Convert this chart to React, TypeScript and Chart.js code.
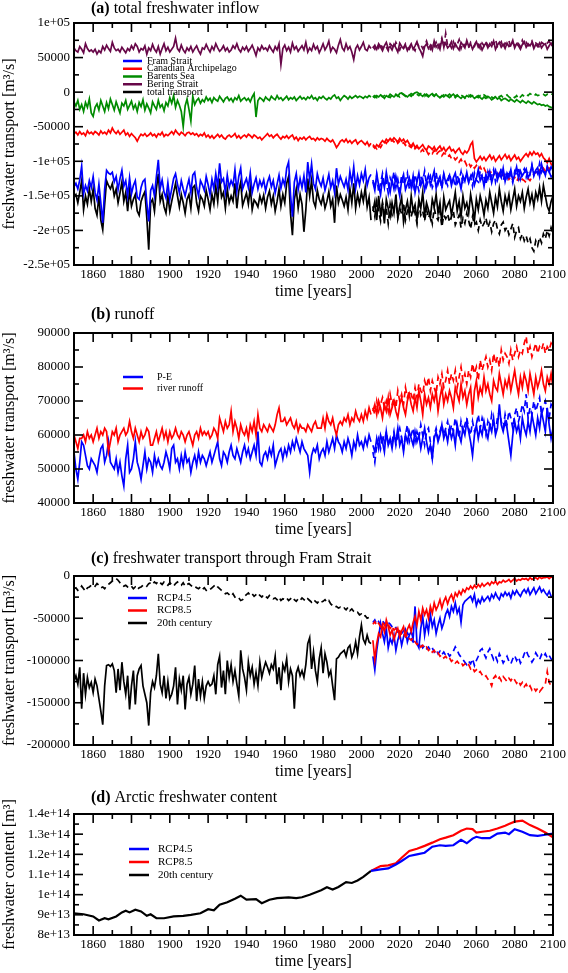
import React, { useEffect, useRef } from "react";
import { Chart, registerables } from "chart.js";
Chart.register(...registerables);

const FONT = "'Liberation Serif', 'Times New Roman', serif";
const BLUE = "#0000ff";
const RED = "#ff0000";
const GREEN = "#008b00";
const MAROON = "#670748";
const BLACK = "#000000";

// ---------- axes / categories ----------
const histYears = Array.from({ length: 156 }, (_, i) => 1850 + i); // 1850..2005
const rcpYears = Array.from({ length: 95 }, (_, i) => 2006 + i); // 2006..2100
const xTickYears = [1860, 1880, 1900, 1920, 1940, 1960, 1980, 2000, 2020, 2040, 2060, 2080, 2100];

// ---------- panel (a): values in 1000 m3/s ----------
const framHist = [
  -137,-132,-140,-127,-107,-147,-135,-143,-128,-138,
  -122,-145,-156,-133,-160,-189,-140,-113,-117,-119,
  -116,-130,-122,-141,-125,-113,-136,-128,-150,-124,
  -147,-135,-128,-152,-155,-138,-129,-126,-160,-187,
  -142,-135,-150,-122,-98,-139,-127,-145,-153,-131,
  -155,-140,-125,-118,-133,-146,-128,-140,-150,-137,
  -126,-145,-120,-116,-138,-150,-128,-134,-142,-122,
  -134,-148,-126,-140,-118,-137,-103,-130,-125,-145,
  -120,-138,-128,-135,-112,-143,-122,-110,-140,-132,
  -125,-138,-117,-145,-133,-124,-140,-128,-136,-127,
  -143,-130,-122,-137,-128,-146,-133,-120,-139,-126,
  -135,-110,-101,-148,-180,-130,-118,-141,-125,-138,
  -121,-145,-101,-127,-104,-132,-140,-118,-129,-136,
  -124,-142,-131,-119,-138,-128,-145,-110,-133,-122,
  -130,-137,-126,-141,-115,-132,-108,-139,-121,-134,
  -118,-128,-112,-135,-124,-119,
];
const framRcp45 = [
  -130,-142,-118,-135,-148,-125,-138,-116,-132,-145,
  -127,-140,-122,-136,-150,-128,-119,-141,-133,-124,
  -138,-121,-145,-130,-117,-135,-126,-142,-129,-120,
  -134,-125,-114,-139,-128,-122,-137,-118,-131,-126,
  -120,-135,-124,-117,-132,-127,-140,-121,-129,-116,
  -130,-123,-118,-134,-125,-112,-128,-121,-136,-119,
  -126,-115,-131,-120,-113,-127,-118,-124,-110,-129,
  -117,-123,-112,-128,-119,-108,-125,-114,-121,-116,
  -111,-124,-118,-106,-120,-113,-109,-122,-104,-115,
  -119,-110,-116,-108,-113,
];
const framRcp85 = [
  -127,-139,-121,-144,-132,-118,-136,-129,-146,-124,
  -131,-115,-138,-126,-142,-120,-134,-128,-117,-140,
  -125,-137,-119,-131,-143,-122,-129,-114,-136,-127,
  -121,-138,-130,-116,-133,-124,-140,-119,-128,-135,
  -118,-130,-125,-137,-121,-128,-115,-133,-126,-119,
  -131,-122,-136,-117,-127,-130,-114,-125,-120,-134,
  -116,-128,-121,-112,-130,-118,-124,-109,-127,-119,
  -125,-113,-120,-131,-115,-122,-108,-126,-117,-111,
  -123,-114,-119,-105,-121,-112,-118,-103,-116,-110,
  -120,-107,-115,-122,-112,
];
const caaHist = [
  -60,-58,-62,-57,-61,-59,-63,-56,-60,-58,
  -61,-57,-59,-62,-56,-60,-58,-61,-55,-59,
  -52,-57,-60,-56,-61,-58,-55,-62,-59,-64,
  -60,-63,-66,-71,-65,-61,-63,-60,-64,-62,
  -59,-63,-61,-65,-60,-62,-58,-64,-61,-63,
  -60,-57,-61,-55,-59,-62,-58,-60,-63,-59,
  -58,-61,-59,-62,-60,-64,-61,-63,-59,-65,
  -62,-66,-63,-67,-64,-61,-65,-62,-66,-68,
  -64,-62,-65,-63,-60,-66,-63,-67,-64,-62,
  -65,-61,-63,-66,-62,-64,-67,-65,-69,-66,
  -63,-60,-64,-62,-66,-63,-61,-65,-68,-64,
  -66,-63,-67,-64,-62,-68,-65,-70,-66,-68,
  -65,-69,-66,-64,-68,-67,-70,-66,-69,-67,
  -68,-71,-67,-70,-72,-69,-74,-80,-76,-71,
  -69,-72,-68,-73,-70,-74,-71,-69,-75,-72,
  -70,-73,-76,-72,-78,-74,
];
const caaRcp45 = [
  -78,-81,-76,-79,-74,-70,-73,-68,-71,-67,
  -70,-66,-69,-72,-67,-71,-68,-73,-70,-75,
  -78,-74,-80,-77,-82,-79,-76,-81,-84,-78,
  -80,-83,-79,-85,-81,-78,-84,-80,-86,-82,
  -79,-85,-83,-88,-84,-81,-87,-90,-85,-88,
  -84,-76,-72,-96,-101,-97,-93,-98,-94,-99,
  -95,-91,-97,-93,-100,-96,-92,-98,-94,-90,
  -96,-92,-99,-95,-91,-97,-94,-100,-96,-92,
  -89,-93,-87,-91,-86,-90,-88,-93,-89,-95,
  -98,-102,-96,-104,-107,
];
const caaRcp85 = [
  -76,-79,-82,-77,-80,-75,-71,-74,-70,-73,
  -69,-72,-68,-74,-71,-75,-73,-77,-74,-78,
  -80,-76,-82,-79,-84,-86,-83,-88,-85,-90,
  -86,-89,-84,-91,-87,-85,-92,-88,-90,-94,
  -91,-96,-93,-98,-95,-101,-97,-103,-100,-106,
  -102,-108,-104,-110,-106,-112,-108,-114,-110,-116,
  -112,-118,-114,-120,-115,-121,-117,-123,-119,-125,
  -120,-126,-122,-127,-123,-129,-124,-130,-126,-128,
  -131,-125,-128,-123,-119,-115,-120,-113,-117,-110,
  -114,-108,-112,-106,-110,
];
const barentsHist = [
  -14,-20,-12,-25,-18,-28,-15,-22,-10,-30,
  -35,-22,-17,-26,-12,-20,-28,-15,-24,-10,
  -18,-26,-14,-22,-30,-16,-20,-12,-25,-19,
  -13,-24,-18,-28,-15,-21,-11,-26,-17,-23,
  -30,-14,-20,-25,-12,-22,-18,-27,-15,-20,
  -8,-16,-5,-22,-12,-19,-28,-50,-20,-10,
  -25,-42,-6,-18,-12,-9,-16,-11,-14,-7,
  -12,-9,-15,-8,-11,-13,-6,-10,-14,-9,
  -7,-12,-9,-14,-8,-11,-5,-13,-10,-8,
  -12,-9,-14,-7,-2,-36,-12,-8,-10,-13,
  -7,-10,-12,-6,-9,-11,-5,-10,-8,-12,
  -9,-6,-11,-8,-10,-7,-12,-9,-6,-10,
  -8,-11,-7,-9,-5,-10,-8,-12,-7,-9,
  -6,-9,-11,-8,-10,-6,-4,-9,-7,-12,
  -8,-5,-7,-10,-6,-9,-7,-5,-8,-6,
  -7,-9,-6,-8,-5,-7,
];
const barentsRcp45 = [
  -6,-8,-5,-7,-4,-6,-9,-5,-7,-3,
  -5,-7,-4,-6,-2,-1,-3,-5,-7,-4,
  -6,-3,-1,0,-2,-4,-6,-3,-5,-7,
  -4,-2,-5,-3,-6,-8,-5,-7,-4,-6,
  -8,-5,-3,-6,-4,-7,-9,-6,-8,-5,
  -7,-4,-6,-9,-7,-5,-8,-10,-7,-9,
  -6,-8,-11,-9,-7,-10,-8,-12,-10,-9,
  -11,-13,-10,-12,-14,-11,-13,-15,-12,-14,
  -16,-13,-15,-17,-14,-16,-18,-17,-19,-18,
  -20,-19,-21,-22,-23,
];
const barentsRcp85 = [
  -7,-5,-8,-6,-4,-7,-5,-3,-6,-8,
  -4,-6,-3,-5,-7,-2,-4,-6,-3,-5,
  -2,-4,-1,-3,-5,-2,-4,-6,-3,-5,
  -7,-4,-6,-3,-5,-8,-6,-4,-7,-5,
  -3,-6,-4,-8,-5,-7,-4,-6,-9,-6,
  -4,-7,-5,-3,-6,-8,-5,-7,-4,-6,
  -8,-5,-7,-9,-6,-4,-7,-5,-8,-6,
  -4,-7,-9,-6,-8,-5,-10,-7,-4,-6,
  -3,-5,-2,-4,-6,-3,-5,-4,-2,-3,
  -5,-3,-4,-2,-4,
];
const beringHist = [
  64,60,58,66,62,57,70,63,59,61,
  58,62,55,60,57,66,61,68,63,59,
  72,64,60,62,58,65,61,57,63,60,
  67,62,70,66,58,63,61,67,55,64,
  60,69,62,58,66,55,63,70,60,65,
  58,62,66,78,63,59,68,61,57,64,
  60,66,58,63,67,60,55,64,62,69,
  63,58,66,61,70,64,59,62,67,60,
  64,58,61,67,63,70,62,58,65,61,
  66,59,63,68,61,53,64,60,67,62,
  64,60,67,62,58,66,61,70,40,63,
  68,60,65,58,71,62,66,59,63,67,
  61,72,58,64,60,69,62,66,57,63,
  70,61,66,74,59,65,62,57,68,76,
  64,60,70,62,66,58,47,63,68,61,
  66,72,62,60,67,63,
];
const beringRcp45 = [
  64,68,62,70,65,60,67,72,63,66,
  61,69,64,58,71,66,63,68,60,65,
  70,62,67,73,64,59,52,66,70,63,
  68,61,74,65,69,62,76,66,71,64,
  67,73,63,70,65,61,72,68,64,75,
  66,70,62,68,73,65,69,61,67,71,
  64,70,66,74,62,68,72,65,69,63,
  71,66,68,75,64,70,67,62,69,73,
  65,70,67,72,63,69,66,71,64,68,
  70,62,67,71,66,
];
const beringRcp85 = [
  66,62,69,64,71,63,68,65,60,70,
  67,63,72,66,61,68,64,70,65,62,
  68,64,60,71,66,69,63,67,74,65,
  62,70,66,72,64,69,78,65,85,67,
  70,64,73,66,69,76,63,71,67,70,
  64,72,68,66,74,69,63,71,67,73,
  68,65,72,70,76,66,69,73,64,71,
  69,74,65,71,67,73,70,66,75,68,
  72,67,70,74,66,71,69,64,72,70,
  67,71,74,66,69,
];
const totalHist = [
  -152,-148,-160,-145,-128,-170,-150,-162,-140,-158,
  -140,-168,-178,-150,-185,-199,-162,-128,-135,-140,
  -132,-150,-140,-160,-146,-130,-158,-145,-172,-142,
  -165,-155,-148,-172,-178,-158,-150,-144,-182,-228,
  -160,-155,-172,-140,-118,-158,-148,-166,-175,-150,
  -172,-158,-145,-132,-150,-166,-148,-160,-175,-155,
  -148,-168,-138,-135,-160,-172,-150,-155,-165,-142,
  -155,-170,-148,-162,-136,-158,-125,-152,-145,-168,
  -140,-160,-150,-158,-132,-168,-143,-130,-164,-155,
  -146,-162,-138,-170,-156,-160,-166,-150,-160,-149,
  -168,-152,-143,-162,-150,-172,-158,-140,-165,-148,
  -160,-132,-122,-175,-207,-155,-140,-168,-148,-162,
  -202,-170,-125,-150,-128,-158,-166,-142,-155,-162,
  -150,-168,-158,-144,-165,-155,-189,-135,-160,-148,
  -156,-165,-152,-170,-140,-160,-132,-168,-148,-162,
  -145,-158,-138,-166,-152,-185,
];
const totalRcp45 = [
  -172,-158,-185,-150,-176,-162,-190,-155,-168,-180,
  -160,-175,-148,-182,-165,-152,-188,-170,-158,-178,
  -150,-172,-163,-185,-155,-168,-145,-178,-160,-170,
  -182,-155,-166,-148,-175,-160,-190,-152,-170,-163,
  -157,-178,-162,-145,-172,-158,-180,-150,-168,-160,
  -175,-148,-165,-185,-155,-170,-150,-162,-178,-156,
  -168,-145,-160,-175,-152,-166,-140,-158,-172,-150,
  -162,-148,-170,-155,-140,-165,-150,-158,-145,-168,
  -152,-140,-160,-148,-165,-145,-155,-138,-158,-135,
  -150,-165,-172,-158,-150,
];
const totalRcp85 = [
  -165,-180,-158,-172,-186,-160,-175,-168,-190,-162,
  -178,-170,-155,-182,-168,-176,-160,-185,-172,-165,
  -180,-168,-175,-190,-162,-178,-172,-186,-170,-182,
  -175,-190,-168,-180,-185,-172,-195,-178,-183,-176,
  -188,-180,-172,-192,-185,-178,-196,-182,-190,-175,
  -186,-198,-180,-192,-188,-200,-185,-195,-190,-182,
  -196,-188,-202,-190,-185,-198,-205,-192,-188,-200,
  -195,-206,-198,-190,-210,-200,-196,-212,-205,-215,
  -208,-218,-212,-225,-230,-215,-222,-210,-218,-205,
  -212,-200,-208,-196,-204,
];

// ---------- panel (b): values in 1000 m3/s ----------
const peHist = [
  55,50,47,52,58,57,54,51,50,53,
  52,51,49,53,56,57,52,54,58,52,
  51,50,53,49,52,48,45,53,57,49,
  50,53,58,52,50,47,51,55,50,53,
  52,49,54,51,53,51,50,52,55,53,
  50,56,57,52,53,50,54,51,55,52,
  53,49,52,54,51,55,52,54,53,51,
  53,55,52,54,56,58,53,51,55,54,
  52,55,57,54,53,56,54,52,55,57,
  54,56,53,55,57,54,61,52,51,54,
  55,53,56,54,57,51,53,55,56,53,
  56,54,57,55,58,56,59,57,55,58,
  56,55,54,49,54,56,55,57,53,55,
  56,54,58,55,57,59,56,60,58,57,
  55,58,56,59,57,54,58,56,60,57,
  58,56,59,57,60,58,
];
const peRcp45 = [
  57,55,59,56,60,58,55,61,57,59,
  56,60,58,62,57,59,55,60,58,61,
  59,57,61,58,60,56,59,62,58,55,
  57,53,59,61,58,60,63,59,61,58,
  62,59,61,57,63,60,58,62,60,64,
  61,58,54,60,63,59,62,60,64,61,
  59,63,61,65,60,62,69,63,61,64,
  62,58,54,60,64,61,63,59,65,62,
  60,64,61,66,63,60,65,62,67,64,
  61,68,63,59,62,
];
const peRcp85 = [
  55,52,57,59,56,60,58,61,57,59,
  58,61,57,60,62,59,56,60,63,58,
  60,62,58,61,59,63,60,57,61,62,
  58,53,60,62,59,61,63,60,62,64,
  60,63,61,65,62,59,64,61,63,65,
  62,60,64,61,63,66,62,65,63,60,
  64,62,66,63,61,65,67,64,62,66,
  63,67,65,62,66,68,64,66,69,67,
  72,65,68,66,70,67,69,71,66,68,
  70,67,65,69,68,
];
const runoffHist = [
  60,58,56,59,59,60,58,61,59,60,
  58,60,62,59,61,60,62,61,55,58,
  61,60,62,58,60,61,62,60,61,64,
  61,59,62,60,58,61,59,60,62,61,
  57,57,59,61,58,60,62,59,61,58,
  61,59,60,62,60,59,61,60,58,60,
  61,59,57,60,61,59,62,60,61,60,
  61,59,60,62,61,59,65,63,61,64,
  62,63,67,61,64,62,59,63,61,60,
  62,59,63,61,64,60,66,62,61,63,
  62,61,63,62,61,63,66,68,64,64,
  65,63,64,65,63,62,64,61,63,62,
  62,61,63,62,61,63,64,62,62,62,
  65,62,66,64,63,65,62,60,63,64,
  63,65,64,66,63,65,64,67,65,64,
  66,64,67,65,68,66,
];
const runoffRcp45 = [
  67,69,66,70,68,65,69,67,71,66,
  68,70,67,65,69,71,68,66,70,72,
  69,67,71,68,73,70,66,72,69,71,
  68,72,70,73,67,71,74,69,72,70,
  73,71,68,74,72,70,75,71,73,69,
  72,74,66,73,76,71,74,72,77,73,
  75,72,70,76,74,73,78,75,72,76,
  74,77,73,76,79,75,72,77,74,78,
  76,73,78,75,72,77,74,76,79,75,
  73,77,75,78,74,
];
const runoffRcp85 = [
  68,66,70,67,69,71,68,70,67,72,
  69,71,68,73,70,72,69,74,71,73,
  72,70,74,71,75,73,72,76,74,77,
  73,76,74,72,77,75,78,74,76,79,
  75,78,76,79,74,77,80,76,78,75,
  79,77,81,78,80,76,82,79,81,83,
  80,82,79,84,81,83,80,85,82,84,
  83,81,85,82,84,86,83,85,84,87,
  89,84,86,83,85,87,84,86,85,87,
  84,86,85,87,86,
];

// ---------- panel (c): values in 1000 m3/s ----------
const liquidHist = [
  -125,-118,-128,-108,-157,-115,-140,-120,-132,-126,
  -138,-122,-130,-145,-160,-176,-130,-106,-105,-107,
  -104,-112,-138,-110,-135,-102,-125,-140,-118,-158,
  -130,-112,-152,-118,-110,-106,-130,-140,-150,-177,
  -138,-125,-132,-118,-92,-128,-138,-118,-145,-125,
  -145,-140,-130,-108,-152,-122,-135,-118,-158,-128,
  -120,-140,-128,-106,-148,-122,-142,-125,-145,-130,
  -125,-130,-128,-118,-140,-105,-95,-132,-112,-140,
  -100,-120,-105,-125,-112,-128,-142,-88,-110,-120,
  -135,-102,-118,-108,-128,-114,-130,-102,-120,-110,
  -102,-108,-115,-105,-110,-95,-128,-108,-135,-105,
  -112,-98,-125,-110,-118,-157,-115,-108,-118,-112,
  -120,-105,-80,-73,-110,-90,-112,-125,-98,-85,
  -115,-92,-102,-118,-112,-130,-147,-98,-96,-92,
  -90,-88,-95,-85,-82,-96,-90,-78,-92,-72,
  -58,-75,-80,-70,-78,-80,
];
const liquidRcp45 = [
  -95,-111,-88,-72,-56,-68,-78,-62,-85,-74,
  -80,-70,-88,-76,-68,-82,-72,-64,-78,-70,
  -66,-74,-36,-80,-85,-62,-48,-70,-55,-66,
  -45,-60,-52,-68,-58,-50,-62,-55,-45,-40,
  -48,-36,-42,-32,-44,-38,-55,-34,-30,-28,
  -26,-24,-30,-22,-35,-28,-32,-25,-30,-27,
  -24,-29,-22,-26,-20,-25,-28,-21,-24,-19,
  -23,-20,-26,-18,-22,-17,-21,-24,-19,-16,
  -20,-15,-22,-18,-14,-21,-17,-13,-19,-16,
  -20,-23,-18,-24,-26,
];
const liquidRcp85 = [
  -76,-99,-80,-68,-72,-58,-66,-52,-60,-70,
  -64,-75,-68,-62,-72,-65,-60,-70,-63,-58,
  -66,-55,-48,-58,-42,-52,-38,-46,-40,-50,
  -36,-44,-32,-40,-35,-28,-38,-30,-25,-33,
  -26,-22,-29,-20,-24,-18,-22,-16,-19,-14,
  -16,-12,-15,-11,-14,-10,-13,-9,-12,-10,
  -8,-11,-7,-9,-6,-10,-7,-8,-5,-7,
  -6,-4,-7,-5,-3,-6,-4,-5,-3,-4,
  -3,-5,-2,-4,-3,-2,-4,-1,-3,-2,
  -2,-1,-3,-1,-2,
];
const iceHist = [
  -15,-14,-17,-16,-12,-15,-18,-14,-13,-11,
  -10,-12,-9,-11,-14,-13,-15,-12,-10,-8,
  -6,-4,-3,-5,-8,-10,-12,-11,-13,-14,
  -12,-15,-13,-16,-14,-13,-11,-10,-12,-9,
  -8,-10,-7,-9,-6,-8,-10,-7,-9,-11,
  -8,-10,-12,-9,-7,-10,-11,-8,-12,-10,
  -9,-11,-13,-12,-14,-15,-13,-16,-14,-17,
  -15,-16,-14,-12,-10,-13,-15,-17,-19,-21,
  -20,-22,-24,-21,-25,-27,-26,-29,-28,-24,
  -22,-20,-23,-21,-24,-22,-20,-23,-25,-22,
  -24,-26,-23,-25,-27,-26,-28,-25,-29,-27,
  -28,-26,-29,-27,-25,-28,-30,-27,-29,-26,
  -28,-30,-27,-29,-31,-28,-30,-32,-29,-31,
  -30,-28,-31,-29,-33,-35,-37,-36,-38,-37,
  -39,-38,-40,-37,-41,-39,-42,-44,-43,-46,
  -45,-48,-47,-50,-49,-52,
];
const iceRcp45 = [
  -55,-52,-57,-54,-58,-53,-56,-59,-55,-57,
  -60,-63,-61,-66,-64,-68,-65,-70,-67,-72,
  -74,-78,-76,-80,-83,-79,-85,-82,-86,-84,
  -88,-85,-90,-87,-92,-89,-93,-90,-94,-91,
  -95,-92,-89,-84,-88,-93,-96,-99,-102,-105,
  -101,-104,-98,-106,-100,-95,-88,-86,-92,-97,
  -90,-86,-93,-99,-95,-101,-92,-97,-103,-99,
  -95,-101,-104,-98,-94,-100,-96,-103,-99,-92,
  -88,-94,-97,-102,-98,-91,-95,-99,-93,-96,
  -92,-97,-94,-98,-100,
];
const iceRcp85 = [
  -57,-54,-59,-56,-60,-55,-58,-61,-57,-62,
  -59,-64,-62,-67,-65,-70,-68,-72,-69,-74,
  -76,-73,-78,-81,-79,-84,-82,-86,-84,-88,
  -86,-90,-88,-93,-91,-95,-93,-97,-95,-99,
  -97,-101,-99,-103,-101,-104,-102,-106,-104,-107,
  -105,-110,-108,-113,-111,-115,-113,-117,-120,-118,
  -122,-125,-130,-121,-118,-123,-120,-124,-119,-122,
  -125,-121,-124,-120,-123,-127,-124,-129,-126,-131,
  -128,-133,-130,-135,-132,-136,-133,-137,-134,-131,
  -128,-113,-126,-130,-127,
];

// ---------- panel (d): values in 1e13 m3 ----------
const fwcHistYears = [1850,1855,1860,1863,1866,1868,1872,1875,1877,1879,1882,1885,1888,1890,1893,1897,1902,1907,1911,1916,1920,1923,1926,1930,1934,1937,1940,1945,1948,1952,1956,1962,1966,1969,1973,1979,1982,1985,1988,1992,1995,1998,2001,2005];
const fwcHist = [9.08,9.03,8.92,8.72,8.83,8.78,8.92,9.12,9.2,9.12,9.25,9.17,8.95,9.03,8.83,8.83,8.92,8.95,9.0,9.08,9.28,9.22,9.5,9.62,9.8,9.95,9.75,9.78,9.58,9.75,9.83,9.87,9.83,9.87,10.0,10.22,10.37,10.25,10.38,10.62,10.58,10.7,10.88,11.18];
const fwcRcpYears = [2005,2010,2014,2018,2021,2025,2029,2033,2037,2041,2044,2048,2052,2055,2058,2060,2063,2067,2071,2075,2077,2080,2084,2088,2092,2096,2100];
const fwcRcp45 = [11.18,11.25,11.3,11.5,11.67,11.92,12.0,12.08,12.38,12.45,12.42,12.45,12.72,12.55,12.78,12.87,12.8,12.8,13.03,13.08,13.0,13.25,13.12,12.95,12.92,12.97,13.03];
const fwcRcp85 = [11.18,11.42,11.45,11.55,11.83,12.17,12.28,12.42,12.58,12.75,12.83,12.95,13.17,13.28,13.25,13.08,13.12,13.17,13.28,13.42,13.5,13.62,13.67,13.45,13.28,13.08,12.85];

// ---------- tick labels ----------
const aTicks = [100000, 50000, 0, -50000, -100000, -150000, -200000, -250000];
const aTickLabels = ["1e+05", "50000", "0", "-50000", "-1e+05", "-1.5e+05", "-2e+05", "-2.5e+05"];
const bTicks = [90000, 80000, 70000, 60000, 50000, 40000];
const bTickLabels = ["90000", "80000", "70000", "60000", "50000", "40000"];
const cTicks = [0, -50000, -100000, -150000, -200000];
const cTickLabels = ["0", "-50000", "-100000", "-150000", "-200000"];
const dTicks = [1.4e14, 1.3e14, 1.2e14, 1.1e14, 1e14, 9e13, 8e13];
const dTickLabels = ["1.4e+14", "1.3e+14", "1.2e+14", "1.1e+14", "1e+14", "9e+13", "8e+13"];

const aLegend = ["Fram Strait", "Canadian Archipelago", "Barents Sea", "Bering Strait", "total transport"];
const aLegendColors = [BLUE, RED, GREEN, MAROON, BLACK];
const bLegend = ["P-E", "river runoff"];
const bLegendColors = [BLUE, RED];
const scenLegend = ["RCP4.5", "RCP8.5", "20th century"];
const scenLegendColors = [BLUE, RED, BLACK];

type SeriesDef = { years: number[]; values: number[]; mult: number; color: string; dash?: boolean; width?: number };
type PanelDef = {
  id: string; top: number; height: number; chartTop: number; chartBottom: number;
  titleBold: string; titleText: string; titleY: number;
  yTitle: string; yMin: number; yMax: number; yTicks: number[]; yTickLabels: string[];
  legend: string[]; legendColors: string[]; lx1: number; lx2: number; ltx: number; ly0: number; lstep: number; lfont: number;
  series: SeriesDef[];
};

const K = 1000;
const panels: PanelDef[] = [
  {
    id: "a", top: 0, height: 305, chartTop: 23, chartBottom: 265,
    titleBold: "(a)", titleText: "total freshwater inflow", titleY: 9,
    yTitle: "freshwater transport [m³/s]", yMin: -250000, yMax: 100000, yTicks: aTicks, yTickLabels: aTickLabels,
    legend: aLegend, legendColors: aLegendColors, lx1: 123, lx2: 142, ltx: 147, ly0: 61, lstep: 7.75, lfont: 10,
    series: [
      { years: rcpYears, values: framRcp45, mult: K, color: BLUE },
      { years: rcpYears, values: framRcp85, mult: K, color: BLUE, dash: true },
      { years: histYears, values: framHist, mult: K, color: BLUE },
      { years: rcpYears, values: totalRcp45, mult: K, color: BLACK },
      { years: rcpYears, values: totalRcp85, mult: K, color: BLACK, dash: true },
      { years: histYears, values: totalHist, mult: K, color: BLACK },
      { years: rcpYears, values: caaRcp45, mult: K, color: RED },
      { years: rcpYears, values: caaRcp85, mult: K, color: RED, dash: true },
      { years: histYears, values: caaHist, mult: K, color: RED },
      { years: rcpYears, values: barentsRcp45, mult: K, color: GREEN },
      { years: rcpYears, values: barentsRcp85, mult: K, color: GREEN, dash: true },
      { years: histYears, values: barentsHist, mult: K, color: GREEN },
      { years: rcpYears, values: beringRcp45, mult: K, color: MAROON },
      { years: rcpYears, values: beringRcp85, mult: K, color: MAROON, dash: true },
      { years: histYears, values: beringHist, mult: K, color: MAROON },
    ],
  },
  {
    id: "b", top: 305, height: 240, chartTop: 333, chartBottom: 503,
    titleBold: "(b)", titleText: "runoff", titleY: 315,
    yTitle: "freshwater transport [m³/s]", yMin: 40000, yMax: 90000, yTicks: bTicks, yTickLabels: bTickLabels,
    legend: bLegend, legendColors: bLegendColors, lx1: 123, lx2: 143, ltx: 157, ly0: 377, lstep: 11.5, lfont: 10,
    series: [
      { years: rcpYears, values: runoffRcp45, mult: K, color: RED },
      { years: rcpYears, values: runoffRcp85, mult: K, color: RED, dash: true },
      { years: histYears, values: runoffHist, mult: K, color: RED },
      { years: rcpYears, values: peRcp45, mult: K, color: BLUE },
      { years: rcpYears, values: peRcp85, mult: K, color: BLUE, dash: true },
      { years: histYears, values: peHist, mult: K, color: BLUE },
    ],
  },
  {
    id: "c", top: 545, height: 240, chartTop: 576, chartBottom: 745,
    titleBold: "(c)", titleText: "freshwater transport through Fram Strait", titleY: 559,
    yTitle: "freshwater transport [m³/s]", yMin: -200000, yMax: 0, yTicks: cTicks, yTickLabels: cTickLabels,
    legend: scenLegend, legendColors: scenLegendColors, lx1: 128, lx2: 147, ltx: 157, ly0: 598, lstep: 12.5, lfont: 11,
    series: [
      { years: rcpYears, values: liquidRcp85, mult: K, color: RED },
      { years: rcpYears, values: iceRcp85, mult: K, color: RED, dash: true },
      { years: rcpYears, values: liquidRcp45, mult: K, color: BLUE },
      { years: rcpYears, values: iceRcp45, mult: K, color: BLUE, dash: true },
      { years: histYears, values: liquidHist, mult: K, color: BLACK },
      { years: histYears, values: iceHist, mult: K, color: BLACK, dash: true },
    ],
  },
  {
    id: "d", top: 785, height: 188, chartTop: 814, chartBottom: 935,
    titleBold: "(d)", titleText: "Arctic freshwater content", titleY: 798,
    yTitle: "freshwater content [m³]", yMin: 8e13, yMax: 1.4e14, yTicks: dTicks, yTickLabels: dTickLabels,
    legend: scenLegend, legendColors: scenLegendColors, lx1: 129, lx2: 149, ltx: 158, ly0: 849, lstep: 13, lfont: 11,
    series: [
      { years: fwcRcpYears, values: fwcRcp45, mult: 1e13, color: BLUE, width: 2.2 },
      { years: fwcRcpYears, values: fwcRcp85, mult: 1e13, color: RED, width: 2.2 },
      { years: fwcHistYears, values: fwcHist, mult: 1e13, color: BLACK, width: 2.2 },
    ],
  },
];

const X_AXIS_H = 36;

function PanelChart({ p }: { p: PanelDef }) {
  const ref = useRef<HTMLCanvasElement>(null);
  useEffect(() => {
    const canvas = ref.current;
    if (!canvas) return;
    const majorStep = Math.abs(p.yTicks[0] - p.yTicks[1]);
    const decor = {
      id: "decor" + p.id,
      afterDraw(chart: any) {
        const { ctx, chartArea: ca, scales } = chart;
        const xs = scales.x, ys = scales.y;
        ctx.save();
        ctx.strokeStyle = "#000";
        ctx.lineCap = "butt";
        const seg = (x1: number, y1: number, x2: number, y2: number) => {
          ctx.beginPath(); ctx.moveTo(x1, y1); ctx.lineTo(x2, y2); ctx.stroke();
        };
        ctx.lineWidth = 1.6;
        // x ticks (major every 20 years, minor every 10)
        for (let yr = 1850; yr <= 2100; yr += 10) {
          const len = xTickYears.includes(yr) ? 9 : 5;
          const px = xs.getPixelForValue(yr);
          seg(px, ca.bottom, px, ca.bottom - len);
          seg(px, ca.top, px, ca.top + len);
        }
        // y ticks
        for (let v = p.yMin; v <= p.yMax + majorStep * 0.01; v += majorStep / 2) {
          const isMajor = p.yTicks.some((t) => Math.abs(t - v) < majorStep * 0.01);
          const len = isMajor ? 9 : 5;
          const py = ys.getPixelForValue(v);
          seg(ca.left, py, ca.left + len, py);
          seg(ca.right, py, ca.right - len, py);
        }
        ctx.lineWidth = 2;
        ctx.strokeRect(ca.left, ca.top, ca.right - ca.left, ca.bottom - ca.top);
        // title
        ctx.fillStyle = "#000";
        ctx.textBaseline = "middle";
        ctx.textAlign = "left";
        ctx.font = `bold 16px ${FONT}`;
        const ty = p.titleY - p.top;
        ctx.fillText(p.titleBold, 91, ty);
        const w = ctx.measureText(p.titleBold + " ").width;
        ctx.font = `16px ${FONT}`;
        ctx.fillText(p.titleText, 91 + w, ty);
        // legend
        ctx.font = `${p.lfont}px ${FONT}`;
        p.legend.forEach((lab, i) => {
          const ly = p.ly0 - p.top + i * p.lstep;
          ctx.strokeStyle = p.legendColors[i];
          ctx.lineWidth = 2.5;
          seg(p.lx1, ly, p.lx2, ly);
          ctx.fillStyle = "#000";
          ctx.fillText(lab, p.ltx, ly);
        });
        ctx.restore();
      },
    };
    const chart = new Chart(canvas, {
      type: "line",
      data: {
        datasets: p.series.map((s) => ({
          data: s.years.map((x, i) => ({ x, y: s.values[i] * s.mult })),
          borderColor: s.color,
          backgroundColor: s.color,
          borderWidth: s.width ?? 1.7,
          borderDash: s.dash ? [6, 4] : [],
          pointRadius: 0,
          fill: false,
          tension: 0,
        })),
      },
      options: {
        animation: false,
        responsive: false,
        devicePixelRatio: 1,
        layout: {
          padding: {
            left: 0,
            right: 568 - 553,
            top: p.chartTop - p.top,
            bottom: p.top + p.height - p.chartBottom - X_AXIS_H,
          },
        },
        plugins: { legend: { display: false }, tooltip: { enabled: false }, title: { display: false } },
        scales: {
          x: {
            type: "linear",
            min: 1850,
            max: 2100,
            afterBuildTicks: (s: any) => { s.ticks = xTickYears.map((v) => ({ value: v })); },
            afterFit: (s: any) => { s.height = X_AXIS_H; },
            grid: { display: false, drawTicks: false },
            border: { display: false },
            ticks: { autoSkip: false, maxRotation: 0, padding: 2, color: "#000", font: { family: FONT, size: 13 }, callback: (v: any) => String(v) },
            title: { display: true, text: "time [years]", color: "#000", font: { family: FONT, size: 16 }, padding: 0 },
          },
          y: {
            type: "linear",
            min: p.yMin,
            max: p.yMax,
            afterBuildTicks: (s: any) => { s.ticks = p.yTicks.map((v) => ({ value: v })); },
            afterFit: (s: any) => { s.width = 74; },
            grid: { display: false, drawTicks: false },
            border: { display: false },
            ticks: {
              padding: 4, color: "#000", font: { family: FONT, size: 13 },
              callback: (v: any) => {
                const idx = p.yTicks.findIndex((t) => Math.abs(t - v) < majorStep * 0.01);
                return idx >= 0 ? p.yTickLabels[idx] : "";
              },
            },
            title: { display: true, text: p.yTitle, color: "#000", font: { family: FONT, size: 16 }, padding: 0 },
          },
        },
      },
      plugins: [decor],
    } as any);
    return () => chart.destroy();
  }, [p]);
  return (
    <canvas
      ref={ref}
      width={568}
      height={p.height}
      style={{ position: "absolute", left: 0, top: p.top, width: 568, height: p.height }}
    />
  );
}

export default function App() {
  return (
    <div style={{ position: "absolute", left: 0, top: 0, width: 568, height: 973, background: "#fff" }}>
      {panels.map((p) => (
        <PanelChart key={p.id} p={p} />
      ))}
    </div>
  );
}
